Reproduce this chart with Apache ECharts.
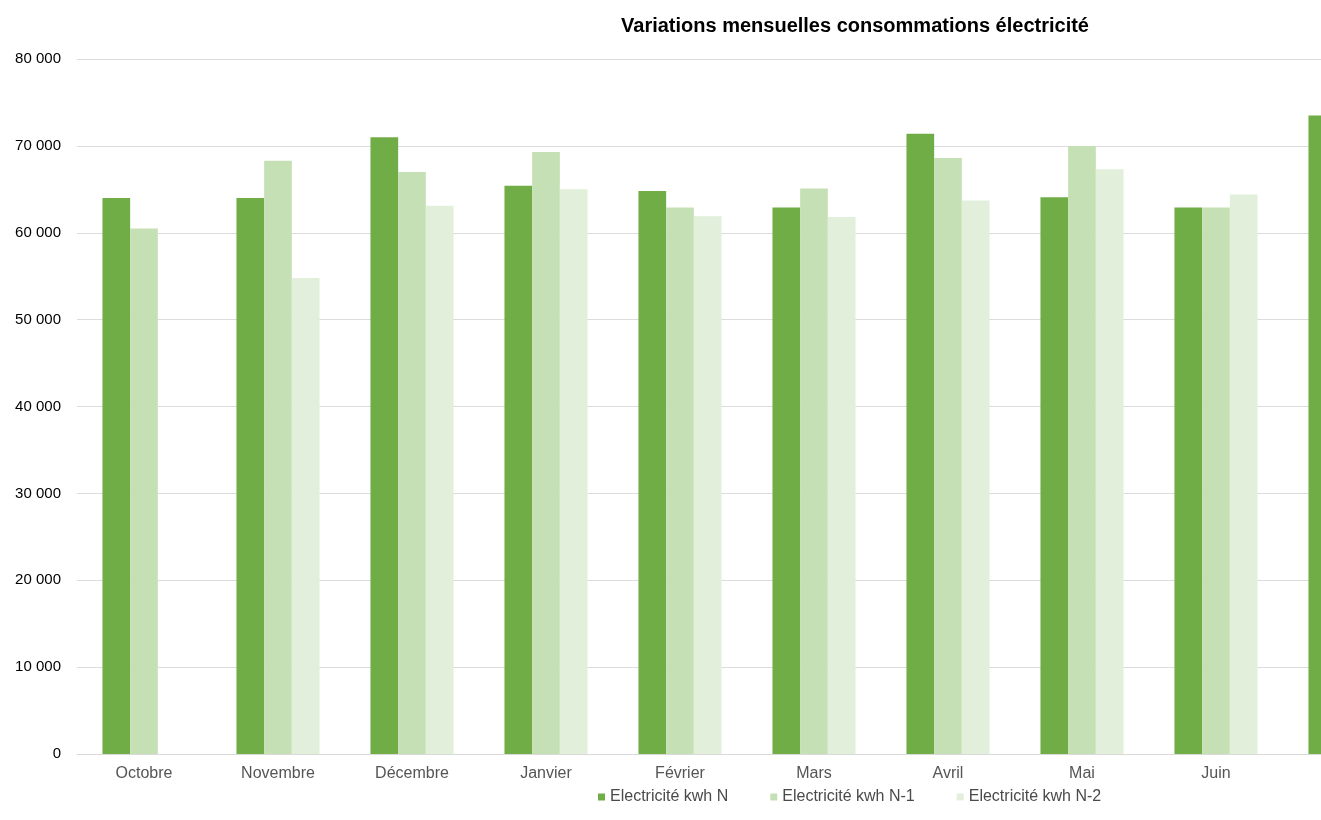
<!DOCTYPE html>
<html>
<head>
<meta charset="utf-8">
<script src="https://cdn.jsdelivr.net/npm/echarts@6/dist/echarts.min.js"></script>
<style>
  html, body { margin: 0; padding: 0; overflow: hidden; background: #fff; }
  #chart { width: 1500px; height: 820px; }
</style>
</head>
<body>
<div id="chart"></div>
<script>
// mois visibles (le graphique d'origine est coupé à droite)
var mois = ["Octobre", "Novembre", "Décembre", "Janvier", "Février", "Mars", "Avril", "Mai", "Juin", "Juillet"];
var kwhN  = [64000, 64000, 71000, 65400, 64800, 62900, 71400, 64100, 62900, 73500];
var kwhN1 = [60500, 68300, 67000, 69300, 62900, 65100, 68600, 70000, 62900, null];
var kwhN2 = [null, 54800, 63100, 65000, 61900, 61800, 63700, 67300, 64400, null];
var yTicks = { min: 0, max: 80000, interval: 10000 };

var font = "Liberation Sans";

var chart = echarts.init(document.getElementById("chart"));
chart.setOption({
  animation: false,
  textStyle: { fontFamily: font },
  title: {
    text: "Variations mensuelles consommations électricité",
    left: 855,
    top: 16,
    padding: 0,
    textAlign: "center",
    textStyle: { fontFamily: font, fontSize: 20, fontWeight: "bold", color: "#000" }
  },
  legend: {
    data: ["Electricité kwh N", "Electricité kwh N-1", "Electricité kwh N-2"],
    left: 598,
    top: 789,
    padding: 0,
    icon: "rect",
    itemWidth: 7,
    itemHeight: 7,
    itemGap: 42,
    selectedMode: false,
    textStyle: { fontFamily: font, fontSize: 16, color: "#4a4a4a", padding: [0, 0, 0, 0] }
  },
  grid: { left: 77, right: 83, top: 59, bottom: 66, containLabel: false },
  xAxis: {
    type: "category",
    data: mois,
    axisTick: { show: false },
    axisLine: { show: true, lineStyle: { color: "#d9d9d9", width: 1 } },
    axisLabel: { color: "#555", fontSize: 16, margin: 12, fontFamily: font }
  },
  yAxis: {
    type: "value",
    min: yTicks.min,
    max: yTicks.max,
    interval: yTicks.interval,
    axisLine: { show: false },
    axisTick: { show: false },
    splitLine: { lineStyle: { color: "#dcdcdc", width: 1 } },
    axisLabel: {
      color: "#000",
      fontSize: 15,
      margin: 16,
      fontFamily: font,
      formatter: function (v) {
        return String(v).replace(/\B(?=(\d{3})+(?!\d))/g, " ");
      }
    }
  },
  series: [
    {
      name: "Electricité kwh N",
      type: "bar",
      data: kwhN,
      barGap: "0%",
      barCategoryGap: "38%",
      itemStyle: { color: "#70ad47" }
    },
    {
      name: "Electricité kwh N-1",
      type: "bar",
      data: kwhN1,
      itemStyle: { color: "#c5e0b4" }
    },
    {
      name: "Electricité kwh N-2",
      type: "bar",
      data: kwhN2,
      itemStyle: { color: "#e2efda" }
    }
  ]
});
</script>
</body>
</html>
